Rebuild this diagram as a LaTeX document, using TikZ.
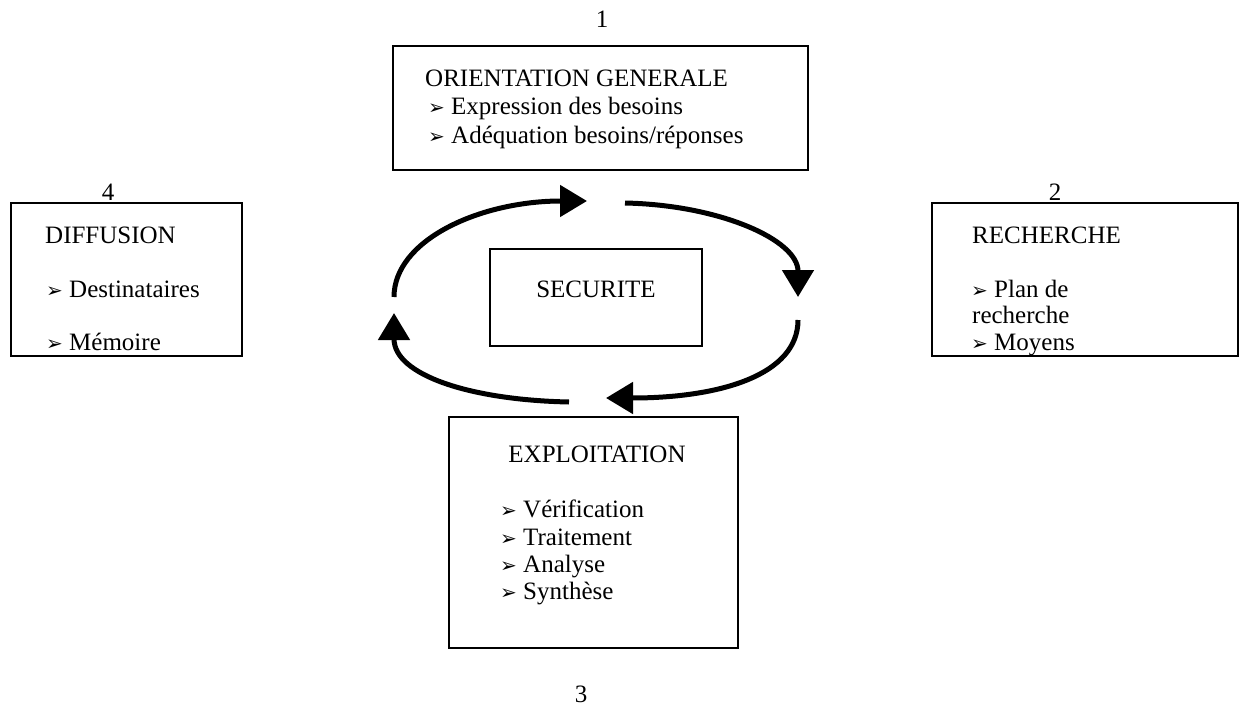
\documentclass[tikz,border=0pt]{standalone}
\usepackage{fontspec}
\setmainfont{Liberation Serif}
\newfontfamily\dejavu{DejaVu Sans}
\usetikzlibrary{arrows.meta}
\newcommand{\bul}{\makebox[21pt][l]{\hspace{-2pt}\raisebox{0pt}{\fontsize{20}{20}\selectfont\dejavu ➢}}}
\begin{document}
\begin{tikzpicture}[x=1pt,y=-1pt,
  box/.style={draw,line width=1.3pt},
  txt/.style={inner sep=0pt,anchor=base west,font=\fontsize{25}{28}\selectfont},
  ctxt/.style={inner sep=0pt,anchor=base,font=\fontsize{25}{28}\selectfont},
  cyc/.style={line width=5pt,-{Triangle[length=27pt,width=31pt]}}]
\useasboundingbox (0,0) rectangle (1241,706);
% boxes
\draw[box] (393,46) rectangle (808,170);
\draw[box] (490,249) rectangle (702,346);
\draw[box] (11,203) rectangle (242,356);
\draw[box] (932,203) rectangle (1238,356);
\draw[box] (449,417) rectangle (738,648);
% numbers
\node[ctxt] (n1) at (602,28) {1};
\node[ctxt] (n2) at (1055,200) {2};
\node[ctxt] (n3) at (581,702) {3};
\node[ctxt] (n4) at (108,200) {4};
% orientation
\node[txt] (o0) at (425,87) {ORIENTATION GENERALE};
\node[txt] (o1) at (430,115) {\bul Expression des besoins};
\node[txt] (o2) at (430,143) {\bul Adéquation besoins/réponses};
% securite
\node[ctxt] (s0) at (596,297) {SECURITE};
% diffusion
\node[txt] (d0) at (45,243) {DIFFUSION};
\node[txt] (d1) at (48,297) {\bul Destinataires};
\node[txt] (d2) at (48,350) {\bul Mémoire};
% recherche
\node[txt] (r0) at (972,243) {RECHERCHE};
\node[txt] (r1) at (973,297) {\bul Plan de};
\node[txt] (r2) at (972,323) {recherche};
\node[txt] (r3) at (973,350) {\bul Moyens};
% exploitation
\node[ctxt] (e0) at (597,462) {EXPLOITATION};
\node[txt] (e1) at (502,517) {\bul Vérification};
\node[txt] (e2) at (502,545) {\bul Traitement};
\node[txt] (e3) at (502,572) {\bul Analyse};
\node[txt] (e4) at (502,599) {\bul Synthèse};
% cycle
\coordinate (a1s) at (394,297);
\coordinate (a1e) at (587,201);
\coordinate (a2s) at (625,203);
\coordinate (a2e) at (798,297);
\coordinate (a3s) at (798,320);
\coordinate (a3e) at (606,398);
\coordinate (a4s) at (569,402);
\coordinate (a4e) at (394,313);
\draw[cyc] (a1s) .. controls (394,240) and (480,201) .. (a1e);
\draw[cyc] (a2s) .. controls (720,205) and (798,240) .. (a2e);
\draw[cyc] (a3s) .. controls (798,375) and (720,398) .. (a3e);
\draw[cyc] (a4s) .. controls (470,400) and (394,375) .. (a4e);
\end{tikzpicture}
\end{document}
